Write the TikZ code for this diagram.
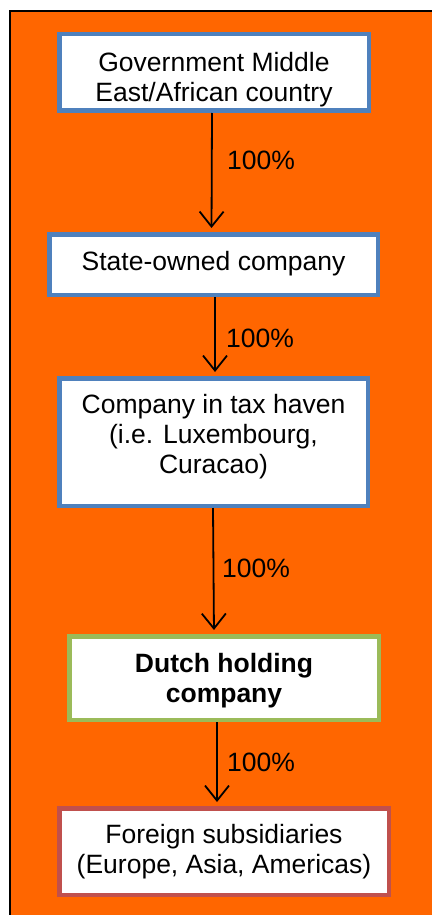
\documentclass[tikz,border=0pt]{standalone}
\usepackage{fontspec}
\setmainfont{Liberation Sans}
\usetikzlibrary{arrows.meta}
\definecolor{bgorange}{HTML}{FF6600}
\definecolor{boxblue}{HTML}{4F81BD}
\definecolor{boxgreen}{HTML}{9BBB59}
\definecolor{boxred}{HTML}{C0504D}
% centred block of lines, moved up by #1 without changing its size
\newcommand{\lowered}[2]{\raisebox{#1}[\height][\depth]{\begin{tabular}{@{}c@{}}#2\end{tabular}}}
\tikzset{
  entity/.style={draw, line width=4.5pt, fill=white, rectangle,
    inner sep=0pt, font=\fontsize{26.5}{30}\selectfont},
  own/.style={line width=1.8pt, -{Straight Barb[length=15pt,width=24pt,line width=1.8pt]},
    shorten >=4pt},
  share/.style={font=\fontsize{26.5}{30}\selectfont, anchor=west, inner sep=0pt}
}
\begin{document}
\begin{tikzpicture}[x=1pt,y=-1pt]
  \useasboundingbox (0,0) rectangle (432,915);
  % orange panel with a black rule along its top and left edges
  \fill[bgorange] (10,11) rectangle (432,915);
  \draw[line width=1.5pt] (10,915) -- (10,11) -- (432,11);

  % ownership chain
  \node[entity, draw=boxblue, minimum width=309.5pt, minimum height=76.5pt]
    (gov) at (214,72.5) {\lowered{-8pt}{Government Middle\\East/African country}};
  \node[entity, draw=boxblue, minimum width=328.5pt, minimum height=60.5pt]
    (soc) at (213.5,264.5) {\lowered{0pt}{State-owned company}};
  \node[entity, draw=boxblue, minimum width=308.5pt, minimum height=127.5pt]
    (haven) at (213.5,442) {\lowered{5pt}{Company in tax haven\\(i.e. Luxembourg,\\Curacao)}};
  \node[entity, draw=boxgreen, minimum width=309.5pt, minimum height=83.5pt,
    font=\fontsize{26.5}{30}\selectfont\bfseries]
    (dutch) at (224,678) {\lowered{-3pt}{Dutch holding\\company}};
  \node[entity, draw=boxred, minimum width=329.5pt, minimum height=86.5pt]
    (subs) at (224,851.5) {\lowered{-1pt}{Foreign subsidiaries\\(Europe, Asia, Americas)}};

  % 100% ownership links
  \draw[own] ([xshift=-2pt]gov.south) -- ([xshift=-2pt]soc.north);
  \draw[own] ([xshift=1.5pt]soc.south) -- ([xshift=1.5pt]haven.north);
  \draw[own] ([xshift=-0.5pt]haven.south) -- ([xshift=-10pt]dutch.north);
  \draw[own] ([xshift=-7pt]dutch.south) -- ([xshift=-7pt]subs.north);

  \node[share] (p1) at (227,160) {100\%};
  \node[share] (p2) at (226,338) {100\%};
  \node[share] (p3) at (222,568) {100\%};
  \node[share] (p4) at (227,762) {100\%};
\end{tikzpicture}
\end{document}
